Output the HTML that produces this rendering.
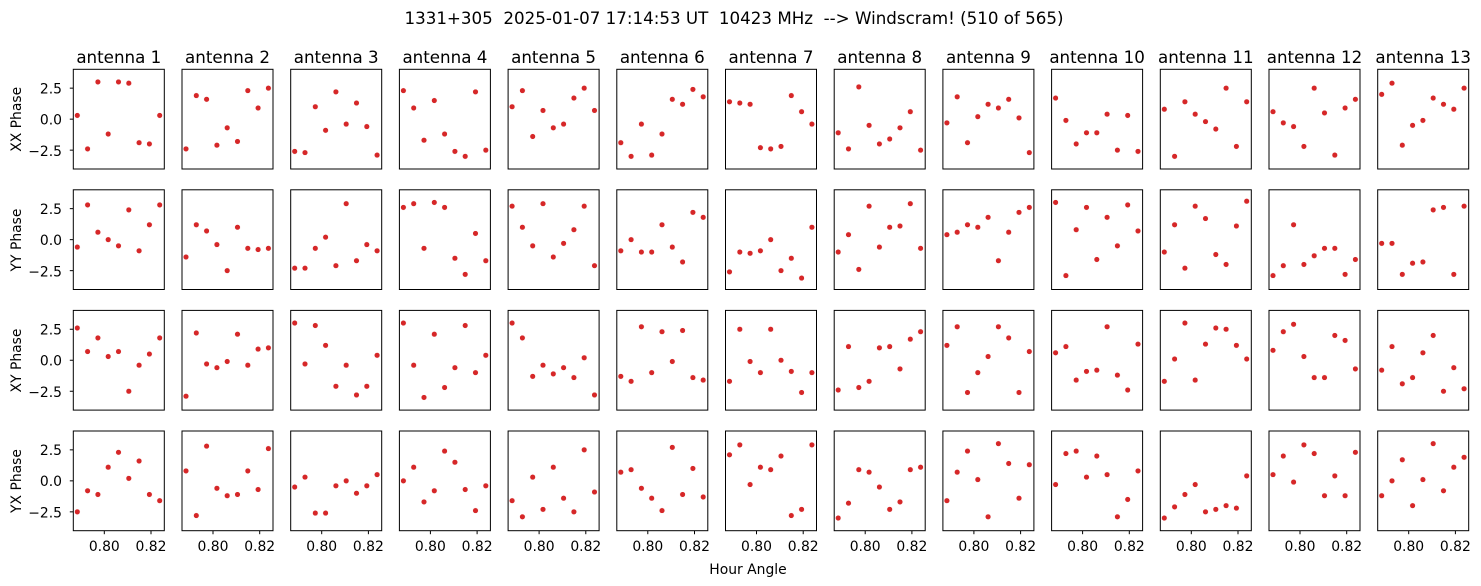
<!DOCTYPE html>
<html><head><meta charset="utf-8"><style>
body{margin:0;background:#fff;}
svg{display:block;font-family:"DejaVu Sans","Liberation Sans",sans-serif;}
text{white-space:pre;}
</style></head><body>
<svg id="s" width="1481" height="586" viewBox="0 0 1481 586" xmlns="http://www.w3.org/2000/svg" xml:space="preserve">
<rect width="1481" height="586" fill="#fff"/>
<text x="734" y="24" font-size="16.7" text-anchor="middle" fill="#000">1331+305  2025-01-07 17:14:53 UT  10423 MHz  --&gt; Windscram! (510 of 565)</text>
<g font-size="16.7" text-anchor="middle" fill="#000">
<text x="118.8" y="63">antenna 1</text><text x="227.5" y="63">antenna 2</text><text x="336.2" y="63">antenna 3</text><text x="444.9" y="63">antenna 4</text><text x="553.6" y="63">antenna 5</text><text x="662.3" y="63">antenna 6</text><text x="771" y="63">antenna 7</text><text x="879.7" y="63">antenna 8</text><text x="988.4" y="63">antenna 9</text><text x="1097.1" y="63">antenna 10</text><text x="1205.8" y="63">antenna 11</text><text x="1314.5" y="63">antenna 12</text><text x="1423.2" y="63">antenna 13</text>
</g>
<g font-size="13.9" fill="#000" text-anchor="middle">
<text transform="translate(21,119.3) rotate(-90)">XX Phase</text>
<text transform="translate(21,240) rotate(-90)">YY Phase</text>
<text transform="translate(21,360.5) rotate(-90)">XY Phase</text>
<text transform="translate(21,481) rotate(-90)">YX Phase</text>
</g>
<g font-size="13.9" fill="#000" text-anchor="end">
<text x="62" y="93.5">2.5</text><text x="62" y="124.5">0.0</text><text x="62" y="156">−2.5</text>
<text x="62" y="214">2.5</text><text x="62" y="245">0.0</text><text x="62" y="276.5">−2.5</text>
<text x="62" y="334.5">2.5</text><text x="62" y="365.5">0.0</text><text x="62" y="397">−2.5</text>
<text x="62" y="455">2.5</text><text x="62" y="486">0.0</text><text x="62" y="517.5">−2.5</text>
</g>
<g id="xt" font-size="13.9" fill="#000" text-anchor="middle">
<text x="104.3" y="551">0.80</text><text x="151" y="551">0.82</text>
<text x="213" y="551">0.80</text><text x="259.7" y="551">0.82</text>
<text x="321.7" y="551">0.80</text><text x="368.4" y="551">0.82</text>
<text x="430.4" y="551">0.80</text><text x="477.1" y="551">0.82</text>
<text x="539.1" y="551">0.80</text><text x="585.8" y="551">0.82</text>
<text x="647.8" y="551">0.80</text><text x="694.5" y="551">0.82</text>
<text x="756.5" y="551">0.80</text><text x="803.2" y="551">0.82</text>
<text x="865.2" y="551">0.80</text><text x="911.9" y="551">0.82</text>
<text x="973.9" y="551">0.80</text><text x="1020.6" y="551">0.82</text>
<text x="1082.6" y="551">0.80</text><text x="1129.3" y="551">0.82</text>
<text x="1191.3" y="551">0.80</text><text x="1238" y="551">0.82</text>
<text x="1300" y="551">0.80</text><text x="1346.7" y="551">0.82</text>
<text x="1408.7" y="551">0.80</text><text x="1455.4" y="551">0.82</text>
</g>
<text x="748" y="574" font-size="13.9" text-anchor="middle" fill="#000">Hour Angle</text>
<g id="g"></g>
</svg>
<script>
var D=[
[[0.3,-2.4,3.0,-1.2,3.0,2.9,-1.9,-2.0,0.3],[-2.4,1.9,1.6,-2.1,-0.7,-1.8,2.3,0.9,2.5],[-2.6,-2.7,1.0,-0.9,2.2,-0.4,1.3,-0.6,-2.9],[2.3,0.9,-1.7,1.5,-1.2,-2.6,-3.0,2.2,-2.5],[1.0,2.3,-1.4,0.7,-0.7,-0.4,1.7,2.5,0.7],[-1.9,-3.0,-0.4,-2.9,-1.2,1.6,1.2,2.4,1.8],[1.4,1.3,1.2,-2.3,-2.4,-2.2,1.9,0.6,-0.4],[-1.1,-2.4,2.6,-0.5,-2.0,-1.6,-0.7,0.6,-2.5],[-0.3,1.8,-1.9,0.2,1.2,0.9,1.6,0.1,-2.7],[1.7,-0.1,-2.0,-1.1,-1.1,0.4,-2.5,0.3,-2.6],[0.8,-3.0,1.4,0.4,-0.2,-0.8,2.5,-2.2,1.4],[0.6,-0.3,-0.6,-2.2,2.5,0.5,-2.9,0.9,1.6],[2.0,2.9,-2.1,-0.5,-0.1,1.7,1.2,0.8,2.5]],
[[-0.6,2.8,0.6,0.0,-0.5,2.4,-0.9,1.2,2.8],[-1.4,1.2,0.7,-0.4,-2.5,1.0,-0.7,-0.8,-0.7],[-2.3,-2.3,-0.7,0.2,-2.1,2.9,-1.7,-0.4,-0.9],[2.6,2.9,-0.7,3.0,2.6,-1.5,-2.8,0.5,-1.7],[2.7,1.0,-0.5,2.9,-1.4,-0.3,0.8,2.7,-2.1],[-0.9,0.0,-1.0,-1.0,1.2,-0.6,-1.8,2.2,1.8],[-2.6,-1.0,-1.1,-0.9,0.0,-2.5,-1.5,-3.1,1.0],[-1.0,0.4,-2.4,2.7,-0.6,1.0,1.1,2.9,-0.7],[0.4,0.6,1.2,1.0,1.8,-1.7,0.6,2.2,2.6],[3.0,-2.9,0.8,2.6,-1.6,1.8,-0.5,2.8,0.7],[-1.0,1.2,-2.3,2.7,1.7,-1.2,-2.0,1.1,3.1],[-2.9,-2.1,1.2,-2.0,-1.3,-0.7,-0.7,-2.8,-1.6],[-0.3,-0.3,-2.8,-1.9,-1.8,2.4,2.6,-2.8,2.7]],
[[2.6,0.7,1.8,0.3,0.7,-2.5,-0.4,0.5,1.8],[-2.9,2.2,-0.3,-0.6,-0.1,2.1,-0.4,0.9,1.0],[3.0,-0.3,2.8,1.2,-2.1,-0.4,-2.8,-2.1,0.4],[3.0,-0.4,-3.0,2.1,-2.2,-0.6,2.8,-1.0,0.4],[3.0,1.8,-1.3,-0.4,-1.1,-0.6,-1.4,0.2,-2.8],[-1.3,-1.7,2.7,-1.0,2.3,-0.1,2.4,-1.4,-1.6],[-1.7,2.5,-0.1,-1.0,2.5,0.0,-0.9,-2.6,-1.0],[-2.4,1.1,-2.2,-1.7,1.0,1.1,-0.7,1.7,2.3],[1.2,2.7,-2.6,-1.0,0.3,2.7,1.8,-2.6,0.7],[0.6,1.1,-1.6,-0.9,-0.8,2.7,-1.2,-2.4,1.3],[-1.7,0.1,3.0,-1.6,1.3,2.6,2.5,1.2,0.1],[0.8,2.3,2.9,0.3,-1.4,-1.4,2.0,1.6,-0.7],[-0.8,1.1,-1.9,-1.4,0.6,2.0,-2.5,-0.6,-2.3]],
[[-2.5,-0.8,-1.1,1.1,2.3,0.2,1.6,-1.1,-1.6],[0.8,-2.8,2.8,-0.6,-1.2,-1.1,0.8,-0.7,2.6],[-0.5,0.3,-2.6,-2.6,-0.4,0.0,-1.0,-0.4,0.5],[0.0,1.1,-1.7,-0.8,2.4,1.5,-0.7,-2.4,-0.4],[-1.6,-2.9,0.3,-2.3,1.1,-1.4,-2.5,2.5,-0.9],[0.7,0.9,-0.6,-1.4,-2.4,2.7,-1.1,1.0,-1.3],[2.1,2.9,-0.3,1.1,0.9,2.0,-2.8,-2.3,2.9],[-3.0,-1.8,0.9,0.7,-0.5,-2.3,-1.7,0.9,1.1],[-1.6,0.7,2.4,0.1,-2.9,3.0,1.4,-1.4,1.3],[-0.3,2.2,2.4,0.3,2.0,0.5,-2.9,-1.5,0.8],[-3.0,-2.1,-1.1,-0.3,-2.5,-2.3,-2.0,-2.2,0.4],[0.5,2.0,-0.1,2.9,2.2,-1.2,0.4,-1.2,2.3],[-1.2,0.0,1.7,-2.0,0.1,3.0,-0.8,1.1,1.9]]];
var g=document.getElementById('g'),h='';
var tops=[69.3,189.8,310.4,431];
for(var r=0;r<4;r++)for(var c=0;c<13;c++){
 var L=73.3+c*108.7,T=tops[r],W=91,H=99.7,cy=T+H/2;
 h+='<rect x="'+L+'" y="'+T+'" width="'+W+'" height="'+H+'" fill="none" stroke="#000" stroke-width="1"/>';
 if(c==0){[2.5,0,-2.5].forEach(function(v){var y=cy-v*12.4;h+='<line x1="'+(L-3.5)+'" x2="'+L+'" y1="'+y+'" y2="'+y+'" stroke="#000"/>';});}
 if(r==3){[31,77.7].forEach(function(dx){h+='<line x1="'+(L+dx)+'" x2="'+(L+dx)+'" y1="'+(T+H)+'" y2="'+(T+H+3.5)+'" stroke="#000"/>';});}
 var d=D[r][c];
 for(var i=0;i<9;i++){h+='<circle cx="'+(L+4+i*10.3)+'" cy="'+(cy-d[i]*12.4)+'" r="2.8" fill="#d62728" stroke="#fff" stroke-width="0.5"/>';}
}
g.innerHTML=h;
</script>
</body></html>
